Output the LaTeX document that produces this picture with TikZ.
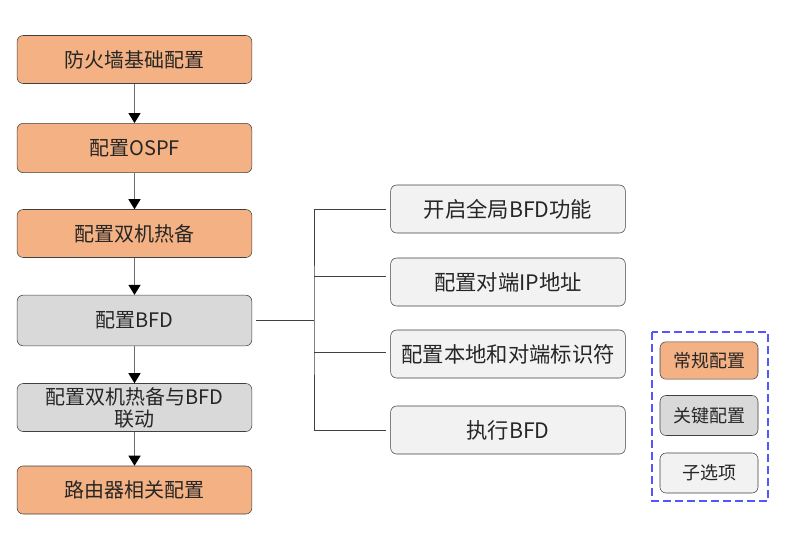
\documentclass[tikz,border=0pt]{standalone}
\usepackage{fontspec}
\setmainfont{Noto Sans CJK SC}
\usetikzlibrary{arrows.meta}

\definecolor{cfgorange}{RGB}{244,177,131}
\definecolor{cfggray}{RGB}{217,217,217}
\definecolor{cfglight}{RGB}{242,242,242}
\definecolor{cfgline}{RGB}{64,64,64}
\definecolor{cfgarrow}{RGB}{110,110,110}
\definecolor{legendblue}{RGB}{85,85,255}

\begin{document}
\begin{tikzpicture}[x=0.75pt,y=-0.75pt,
    box/.style={draw=cfgline,rounded corners=4.5pt,minimum width=176pt,
      minimum height=36pt,inner sep=1pt,text=black!85,
      font=\fontsize{15}{16.5}\selectfont,align=center},
    common/.style={box,fill=cfgorange},
    key/.style={box,fill=cfggray},
    sub/.style={box,fill=cfglight,font=\fontsize{16}{18}\selectfont},
    legend/.style={box,minimum width=73.5pt,minimum height=28pt,
      font=\fontsize{13.5}{15}\selectfont},
    flow/.style={draw=cfgarrow,line width=0.9pt,
      -{Triangle[length=7.5pt,width=9pt,color=black]}},
    branch/.style={draw=cfgline,line width=0.7pt}]
  \useasboundingbox (0,0) rectangle (809,537);

  % main flow
  \node[common,minimum height=36pt] (base) at (134.5,59.5) {防火墙基础配置};
  \node[common,minimum height=37pt] (ospf) at (134.5,148) {配置OSPF};
  \node[common,minimum height=36pt] (hot)  at (134.5,233.5) {配置双机热备};
  \node[key,minimum height=38pt]    (bfd)  at (134.5,320.5) {配置BFD};
  \node[key,minimum height=36pt]    (link) at (134.5,407.5) {配置双机热备与BFD\\联动};
  \node[common,minimum height=36pt] (route) at (134.5,490) {路由器相关配置};

  \draw[flow] (base) -- (ospf);
  \draw[flow] (ospf) -- (hot);
  \draw[flow] (hot) -- (bfd);
  \draw[flow] (bfd) -- (link);
  \draw[flow] (link) -- (route);

  % BFD sub steps
  \node[sub] (global) at (508,209) {开启全局BFD功能};
  \node[sub] (peerip) at (508,282) {配置对端IP地址};
  \node[sub] (disc)   at (508,354) {配置本地和对端标识符};
  \node[sub] (run)    at (508,430) {执行BFD};

  \coordinate (trunk) at (314,320.5);
  \draw[branch] ([xshift=3pt]bfd.east) -- (trunk);
  \draw[branch] ([xshift=-3pt]global.west) -| (trunk) |- ([xshift=-3pt]run.west);
  \draw[branch] (trunk |- 0,276) -- ([xshift=-3pt]peerip.west |- 0,276);
  \draw[branch] (trunk |- 0,352) -- ([xshift=-3pt]disc.west |- 0,352);

  % legend
  \draw[legendblue,dash pattern=on 6pt off 3pt,line width=0.8pt] (652,332) rectangle (768,501);
  \node[legend,fill=cfgorange] (lgcommon) at (709,360.5) {常规配置};
  \node[legend,fill=cfggray,minimum height=30pt] (lgkey) at (709,415.5) {关键配置};
  \node[legend,fill=cfglight,minimum height=30pt] (lgsub) at (709,473) {子选项};
\end{tikzpicture}
\end{document}
